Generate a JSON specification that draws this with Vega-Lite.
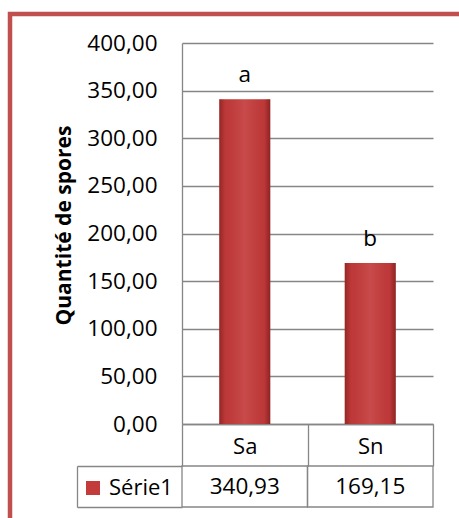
{
  "$schema": "https://vega.github.io/schema/vega-lite/v6.json",
  "width": 460,
  "height": 515,
  "autosize": {"type": "none"},
  "padding": {"left": 10, "top": 14, "right": -11, "bottom": -11},
  "background": "white",
  "config": {
    "locale": {"number": {"decimal": ",", "thousands": " ", "grouping": [3], "currency": ["", " €"]}},
    "view": {"stroke": "#C0504D", "strokeWidth": 4.5, "fill": "white"},
    "font": "Open Sans",
    "text": {"font": "Open Sans", "color": "black"}
  },
  "data": {
    "values": [
      {"cat": "Sa", "value": 340.93, "letter": "a", "series": "Série1"},
      {"cat": "Sn", "value": 169.15, "letter": "b", "series": "Série1"}
    ]
  },
  "layer": [
    {
      "layer": [
        {
          "mark": {"type": "bar", "width": 51},
          "encoding": {
            "x": {
              "field": "cat", "type": "nominal",
              "scale": {"domain": ["Sa", "Sn"], "range": [172, 423], "paddingInner": 0, "paddingOuter": 0},
              "axis": {
                "orient": "bottom", "offset": -105, "title": null, "labelAngle": 0,
                "domain": true, "domainColor": "#868686", "domainWidth": 1.3,
                "ticks": true, "tickBand": "extent", "tickSize": 42, "tickColor": "#868686", "tickWidth": 1.3,
                "labelFont": "Open Sans", "labelFontSize": 22, "labelColor": "black",
                "labelBaseline": "alphabetic", "labelPadding": -13, "grid": false
              }
            },
            "y": {
              "field": "value", "type": "quantitative",
              "scale": {"domain": [0, 400], "range": [410, 29], "nice": false, "zero": true},
              "axis": {
                "orient": "left", "offset": -172,
                "values": [0, 50, 100, 150, 200, 250, 300, 350, 400],
                "format": ".2f",
                "ticks": false,
                "domain": true, "domainColor": "#868686", "domainWidth": 1.3,
                "grid": true, "gridColor": "#868686", "gridWidth": 1.3,
                "labelFont": "Open Sans", "labelFontSize": 22.5, "labelColor": "black", "labelPadding": 25,
                "title": "Quantité de spores", "titleFont": "Open Sans", "titleFontSize": 21,
                "titleFontWeight": "bold", "titleColor": "black", "titlePadding": 12, "titleY": 211
              }
            },
            "color": {
              "field": "series", "type": "nominal",
              "scale": {"domain": ["Série1"], "range": ["#C43B3B"]},
              "legend": {
                "orient": "none", "legendX": 72, "legendY": 463, "title": null,
                "symbolType": "square", "symbolSize": 196, "symbolStrokeWidth": 0,
                "labelFont": "Open Sans", "labelFontSize": 22, "labelColor": "black",
                "labelOffset": 5, "padding": 0
              }
            }
          }
        },
        {
          "mark": {
            "type": "bar", "width": 51,
            "color": {
              "gradient": "linear", "x1": 0, "x2": 1, "y1": 0, "y2": 0,
              "stops": [
                {"offset": 0, "color": "rgba(60,0,0,0.35)"},
                {"offset": 0.12, "color": "rgba(60,0,0,0.05)"},
                {"offset": 0.5, "color": "rgba(255,255,255,0.08)"},
                {"offset": 0.88, "color": "rgba(60,0,0,0.05)"},
                {"offset": 1, "color": "rgba(60,0,0,0.4)"}
              ]
            }
          },
          "encoding": {
            "x": {"field": "cat", "type": "nominal"},
            "y": {"field": "value", "type": "quantitative"}
          }
        },
        {
          "mark": {"type": "text", "dy": -17, "baseline": "alphabetic", "fontSize": 22.5, "font": "Open Sans", "color": "black"},
          "encoding": {
            "x": {"field": "cat", "type": "nominal"},
            "y": {"field": "value", "type": "quantitative"},
            "text": {"field": "letter"}
          }
        }
      ]
    },
    {
      "layer": [
        {
          "mark": {"type": "rect", "filled": false, "stroke": "#868686", "strokeWidth": 1.3},
          "encoding": {
            "x": {"field": "cat", "type": "nominal"},
            "y": {
              "field": "series", "type": "nominal",
              "scale": {"domain": ["Série1"], "range": [452, 493], "paddingInner": 0, "paddingOuter": 0},
              "axis": {
                "orient": "right", "offset": -393, "labels": false, "title": null,
                "domain": true, "domainColor": "#868686", "domainWidth": 1.3,
                "ticks": true, "tickBand": "extent", "tickSize": 105, "tickColor": "#868686", "tickWidth": 1.3,
                "grid": false
              }
            }
          }
        },
        {
          "mark": {"type": "text", "fontSize": 22.5, "baseline": "middle", "font": "Open Sans", "color": "black"},
          "encoding": {
            "x": {"field": "cat", "type": "nominal"},
            "y": {"field": "series", "type": "nominal"},
            "text": {"field": "value", "type": "quantitative", "format": ".2f"}
          }
        }
      ]
    }
  ],
  "resolve": {"scale": {"y": "independent"}, "axis": {"y": "independent"}}
}
